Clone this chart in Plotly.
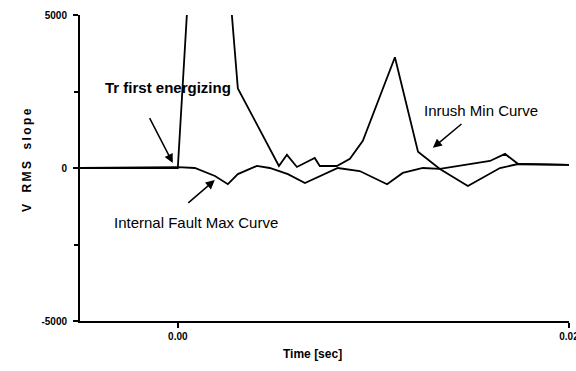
import plotly.graph_objects as go

# Time axis (s) and curve values (V RMS slope)
inrush_t = [-0.005, 0.0, 0.00143, 0.00307, 0.00517, 0.00558, 0.00609, 0.0070, 0.00726,
            0.00813, 0.0088, 0.00946, 0.0111, 0.01228, 0.0134, 0.01483, 0.01647, 0.0174, 0.02]
inrush_v = [0, 0, 15460, 2600, 66, 430, 33, 330, 66,
            66, 300, 890, 3620, 530, -30, -590, 0, 130, 100]

fault_t = [-0.005, 0.0, 0.00087, 0.0019, 0.00256, 0.00307, 0.00404, 0.0047, 0.00563, 0.0065,
           0.00818, 0.0093, 0.0107, 0.0115, 0.01253, 0.0134, 0.01596, 0.01673, 0.0174, 0.02]
fault_v = [0, 30, 0, -260, -530, -200, 66, 0, -200, -490,
           0, -100, -530, -160, 0, -30, 230, 460, 130, 100]

y_tick_vals = [-5000, 0, 5000]
y_tick_text = ["-5000", "0", "5000"]
x_tick_vals = [0.0, 0.02]
x_tick_text = ["0.00", "0.02"]

line_style = dict(color="black", width=1.8)

fig = go.Figure()
fig.add_trace(go.Scatter(x=inrush_t, y=inrush_v, mode="lines", line=line_style,
                         name="Inrush Min Curve", showlegend=False))
fig.add_trace(go.Scatter(x=fault_t, y=fault_v, mode="lines", line=line_style,
                         name="Internal Fault Max Curve", showlegend=False))

tick_font = dict(family="Liberation Sans", size=10, color="black", weight="bold")

fig.update_layout(
    width=576, height=371,
    margin=dict(l=80, r=7, t=15, b=50),
    paper_bgcolor="white", plot_bgcolor="white",
    xaxis=dict(range=[-0.005, 0.02], showgrid=False, zeroline=False, automargin=False,
               showline=True, linecolor="black", linewidth=2,
               ticks="outside", ticklen=5, tickwidth=1.5, tickcolor="black",
               tickvals=x_tick_vals, ticktext=x_tick_text, tickfont=tick_font,
               ticklabeloverflow="allow"),
    yaxis=dict(range=[-5000, 5000], showgrid=False, zeroline=False, automargin=False,
               showline=True, linecolor="black", linewidth=2,
               ticks="outside", ticklen=5, tickwidth=1.5, tickcolor="black",
               tickvals=y_tick_vals, ticktext=y_tick_text, tickfont=tick_font,
               ticklabelstandoff=4,
               minor=dict(tickvals=[-2500, 2500], ticks="outside", ticklen=4,
                          tickcolor="black", tickwidth=1.5)),
)

ann_font = dict(family="Liberation Sans", size=15, color="black")

# Arrows
arrows = [
    dict(x=-0.000256, y=165, ax=-0.00148, ay=1680),
    dict(x=0.00189, y=-395, ax=0.00046, ay=-1184),
    dict(x=0.01304, y=658, ax=0.01458, ay=1480),
]
for a in arrows:
    fig.add_annotation(x=a["x"], y=a["y"], ax=a["ax"], ay=a["ay"], xref="x", yref="y",
                       axref="x", ayref="y", showarrow=True, arrowhead=2, arrowsize=1.2,
                       arrowwidth=1.5, arrowcolor="black", text="")

fig.add_annotation(x=-0.00051, y=2630, xref="x", yref="y", text="<b>Tr first energizing</b>",
                   showarrow=False, font=dict(family="Liberation Sans", size=15, color="black"))
fig.add_annotation(x=0.0155, y=1875, xref="x", yref="y", text="Inrush Min Curve",
                   showarrow=False, font=ann_font)
fig.add_annotation(x=0.00092, y=-1777, xref="x", yref="y", text="Internal Fault Max Curve",
                   showarrow=False, font=ann_font)

# Axis titles
ts = "\u2009"
fig.add_annotation(x=-0.127, y=0.526, xref="paper", yref="paper",
                   text="<b>" + ts.join("V RMS slope").replace(" ", "  ") + "</b>",
                   textangle=-90, showarrow=False,
                   font=dict(family="Liberation Sans", size=12, color="black"))
fig.add_annotation(x=0.476, y=-0.137, xref="paper", yref="paper",
                   text="<b>Time [sec]</b>", showarrow=False,
                   font=dict(family="Liberation Sans", size=12, color="black"))

fig.write_html("out.html")
